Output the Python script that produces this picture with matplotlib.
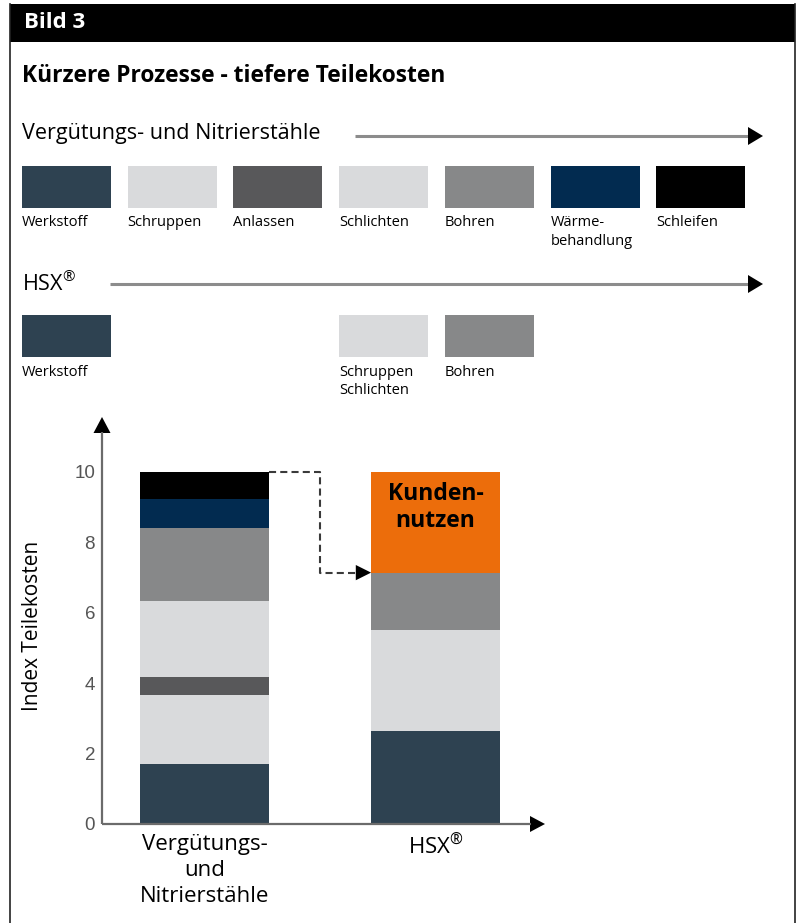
import matplotlib
matplotlib.use("Agg")
import matplotlib.pyplot as plt
from matplotlib.patches import Rectangle, Polygon

plt.rcParams['font.family'] = ['Open Sans', 'DejaVu Sans']

# Prozessschritte Vergütungs- und Nitrierstähle (Index Teilekosten)
conv_steps = ["Werkstoff", "Schruppen", "Anlassen", "Schlichten", "Bohren", "Wärme-\nbehandlung", "Schleifen"]
conv_values = [1.70, 1.96, 0.51, 2.15, 2.10, 0.80, 0.78]
conv_colors = ["#2e4251", "#d9dadc", "#58585a", "#d9dadc", "#878889", "#022b50", "#000000"]

# Prozessschritte HSX
hsx_steps = ["Werkstoff", "Schruppen\nSchlichten", "Bohren"]
hsx_values = [2.65, 2.86, 1.63]
hsx_colors = ["#2e4251", "#d9dadc", "#878889"]
hsx_slots = [0, 3, 4]  # spalte in der legendenreihe

HSX = r"HSX$^{\mathregular{®}}$"
categories = ["Vergütungs-\nund\nNitrierstähle", HSX]
yticks = [0, 2, 4, 6, 8, 10]
benefit_label = "Kunden-\nnutzen"
benefit_color = "#ec6d0b"

W, H = 799, 923
fig = plt.figure(figsize=(W / 100, H / 100), dpi=100)
bg = fig.add_axes([0, 0, 1, 1])
bg.set_xlim(0, W)
bg.set_ylim(H, 0)
bg.axis('off')


def head(x, y, dx, dy, length=15, half=9):
    # gefuelltes dreieck, spitze bei (x, y)
    px, py = -dy, dx
    bx, by = x - dx * length, y - dy * length
    bg.add_patch(Polygon([(x, y), (bx + px * half, by + py * half), (bx - px * half, by - py * half)],
                         closed=True, facecolor='black', lw=0, zorder=6))


def process_arrow(x0, y, x1=763):
    bg.plot([x0, x1 - 14], [y, y], color='#8c8c8c', lw=2.2, solid_capstyle='butt')
    head(x1, y, 1, 0)


BOX_X0, BOX_STEP, BOX_W, BOX_H = 22, 105.7, 89, 42


def swatch_row(steps, colors, slots, top):
    for name, c, s in zip(steps, colors, slots):
        x = BOX_X0 + s * BOX_STEP
        bg.add_patch(Rectangle((x, top), BOX_W, BOX_H, facecolor=c, lw=0))
        bg.text(x, top + BOX_H + 7.5, name, fontsize=10.5, va='top', ha='left', linespacing=1.28)


# rahmen und kopf
bg.add_patch(Rectangle((10, 4), 785, 38, facecolor='black', lw=0))
bg.plot([10, 10], [4, H], color='#222222', lw=1.2)
bg.plot([795, 795], [4, H], color='#222222', lw=1.2)
bg.text(24, 23, "Bild 3", color='white', fontsize=16, fontweight='bold', va='center')
bg.text(22, 76, "Kürzere Prozesse - tiefere Teilekosten", fontsize=16.4, fontweight='bold', va='center')

bg.text(22, 133, "Vergütungs- und Nitrierstähle", fontsize=15.5, va='center')
process_arrow(355, 136)
swatch_row(conv_steps, conv_colors, range(len(conv_steps)), 166)

bg.text(22, 284, HSX, fontsize=15.5, va='center')
process_arrow(110, 284)
swatch_row(hsx_steps, hsx_colors, hsx_slots, 315)

bg.text(33, 626, "Index Teilekosten", fontsize=15, rotation=90, ha='center', va='center')

# diagramm
AX_L, AX_R, AX_T, AX_B = 102, 545, 417, 824
ax = fig.add_axes([AX_L / W, 1 - AX_B / H, (AX_R - AX_L) / W, (AX_B - AX_T) / H])
ax.patch.set_visible(False)
ax.set_ylim(0, 11.56)
ax.set_xlim(-0.444, 1.474)
BAR_W = 0.558

bottom = 0
for v, c in zip(conv_values, conv_colors):
    ax.bar(0, v, bottom=bottom, width=BAR_W, color=c, lw=0)
    bottom += v
total_conv = bottom

bottom = 0
for v, c in zip(hsx_values, hsx_colors):
    ax.bar(1, v, bottom=bottom, width=BAR_W, color=c, lw=0)
    bottom += v
total_hsx = bottom
ax.bar(1, total_conv - total_hsx, bottom=total_hsx, width=BAR_W, color=benefit_color, lw=0)
ax.text(1, 8.98, benefit_label, ha='center', va='center', fontsize=16.5, fontweight='bold', linespacing=1.15)

# gestrichelte verbindung
x0, xm, x1 = BAR_W / 2, 0.5, 1 - BAR_W / 2
ax.plot([x0, xm, xm, x1 - 0.06], [total_conv, total_conv, total_hsx, total_hsx],
        ls=(0, (3.4, 2.0)), color='#3a3a3a', lw=1.5, clip_on=False)
ax.annotate('', xy=(x1, total_hsx), xytext=(x1 - 0.07, total_hsx),
            arrowprops=dict(arrowstyle='-|>,head_length=1.1,head_width=0.55', color='black',
                            lw=0, shrinkA=0, shrinkB=0))

# achsen mit pfeilen
for s in ax.spines.values():
    s.set_visible(False)
ax.plot([0, 1 - 14 / 443], [0, 0], transform=ax.transAxes, color='#6b6b6b', lw=1.6,
        clip_on=False, zorder=5, solid_capstyle='butt')
ax.plot([0, 0], [0, 1 - 15 / 407], transform=ax.transAxes, color='#6b6b6b', lw=1.6,
        clip_on=False, zorder=5, solid_capstyle='butt')
head(AX_R, AX_B, 1, 0, length=15, half=8)
head(AX_L, AX_T, 0, -1, length=16, half=8.5)

ax.set_yticks(yticks)
ax.tick_params(axis='y', length=0, pad=5, labelcolor='#555555', labelsize=13.5)
for lab in ax.get_yticklabels():
    lab.set_fontfamily('Liberation Sans')
ax.set_xticks([0, 1], categories)
ax.tick_params(axis='x', length=0, pad=7.5, labelsize=16)
for lab in ax.get_xticklabels():
    lab.set_linespacing(1.3)

fig.savefig("out.png", dpi=100)
